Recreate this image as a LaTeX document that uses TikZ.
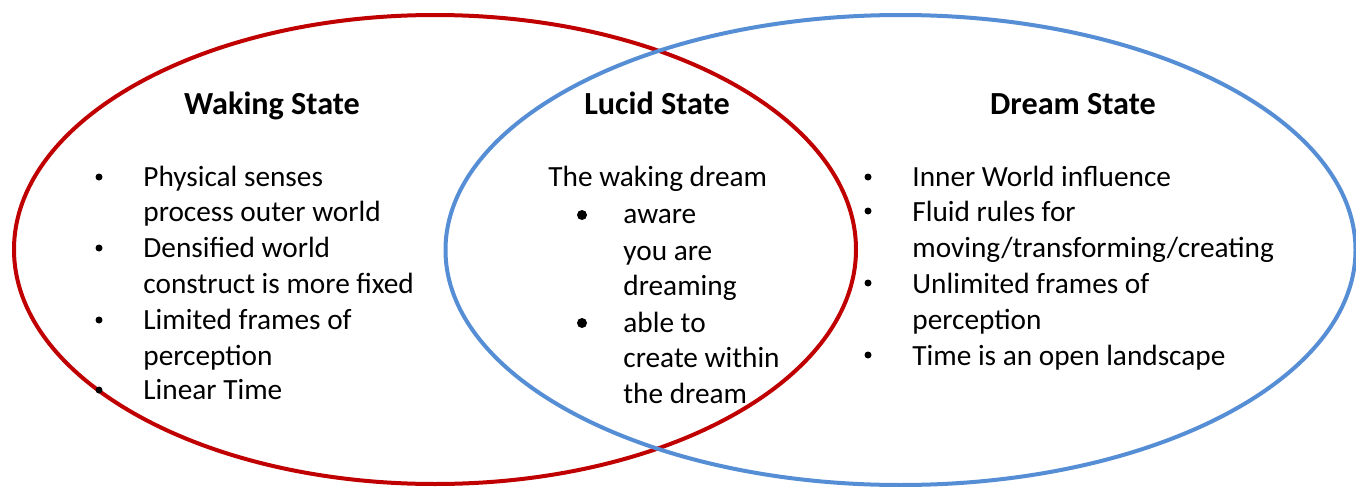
\documentclass[tikz,border=0pt]{standalone}
\usepackage{fontspec}
\setmainfont{Carlito}
\definecolor{wakered}{RGB}{192,0,0}
\definecolor{dreamblue}{RGB}{85,142,213}
\newcommand{\myline}[4]{\node[txt] (#1) at (#2,#3) {#4};}
\newcommand{\mybul}[3]{\node[bul] (#1) at (#2,#3) {};}
\newcommand{\mybigbul}[3]{\node[bigbul] (#1) at (#2,#3) {};}
\begin{document}
\begin{tikzpicture}[x=0.5pt,y=-0.5pt,
  txt/.style={anchor=base west,inner sep=0pt,font=\fontsize{14.65pt}{18pt}\selectfont},
  head/.style={anchor=base,inner sep=0pt,font=\fontsize{16.1pt}{19pt}\selectfont\bfseries},
  bul/.style={circle,fill=black,inner sep=0pt,minimum size=3.5pt},
  bigbul/.style={circle,fill=black,inner sep=0pt,minimum size=5pt},
  ring/.style={line width=2pt}]
\useasboundingbox (0,0) rectangle (1356,487);
\clip (0,0) rectangle (1356,487);
\fill[white] (0,0) rectangle (1356,487);
\draw[ring,wakered] (435,249.5) ellipse [x radius=210.5pt, y radius=117.25pt];
\draw[ring,dreamblue] (900.5,250) ellipse [x radius=227.5pt, y radius=117.5pt];
% headings
\node[head] (wh) at (272,114) {Waking State};
\node[head] (lh) at (657,114) {Lucid State};
\node[head] (dh) at (1073,114) {Dream State};
% waking
\mybul{wb1}{99}{177}
\myline{w1}{143}{186}{Physical senses}
\myline{w2}{143}{221}{process outer world}
\mybul{wb2}{99}{248}
\myline{w3}{143}{257}{Densified world}
\myline{w4}{143}{293}{construct is more fixed}
\mybul{wb3}{99}{320}
\myline{w5}{143}{329}{Limited frames of}
\myline{w6}{143}{365}{perception}
\mybul{wb4}{99}{390}
\myline{w7}{143}{399}{Linear Time}
% lucid
\myline{l0}{548}{186}{The waking dream}
\mybigbul{lb1}{582}{215}
\myline{l1}{623}{223}{aware}
\myline{l2}{623}{260}{you are}
\myline{l3}{623}{295}{dreaming}
\mybigbul{lb2}{582}{323}
\myline{l4}{623}{332}{able to}
\myline{l5}{623}{367}{create within}
\myline{l6}{623}{403}{the dream}
% dream
\mybul{db1}{868}{177}
\myline{d1}{912}{186}{Inner World influence}
\mybul{db2}{868}{211}
\myline{d2}{912}{221}{Fluid rules for}
\myline{d3}{912}{257}{moving/transforming/creating}
\mybul{db3}{868}{283}
\myline{d4}{912}{293}{Unlimited frames of}
\myline{d5}{912}{329}{perception}
\mybul{db4}{868}{355}
\myline{d6}{912}{365}{Time is an open landscape}
\end{tikzpicture}
\end{document}
